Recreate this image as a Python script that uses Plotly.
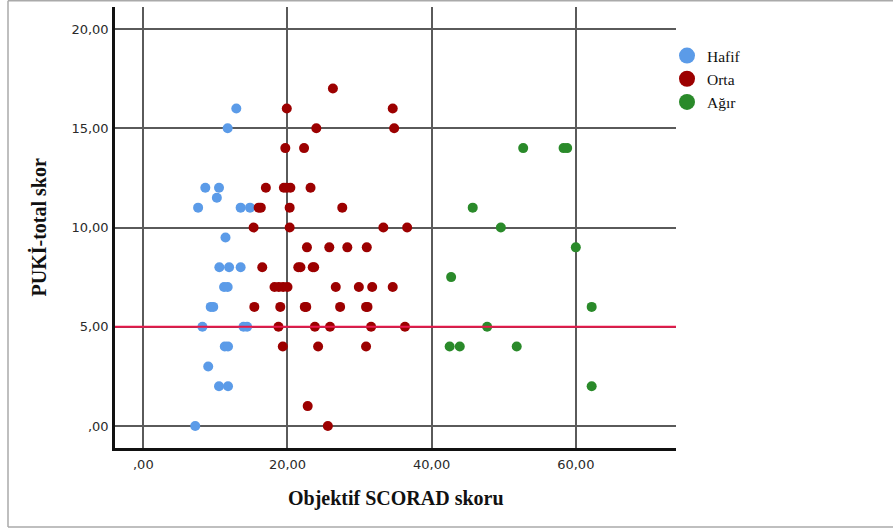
import plotly.graph_objects as go

# ---- data ----
hafif_x = [12.9, 11.7, 8.6, 10.5, 10.2, 7.6, 13.5, 14.8, 11.4, 10.55, 11.9, 13.5,
           11.2, 11.7, 9.35, 9.7, 8.2, 13.9, 14.4, 11.3, 11.75, 9.0, 10.5, 11.75, 7.2]
hafif_y = [16, 15, 12, 12, 11.5, 11, 11, 11, 9.5, 8, 8, 8,
           7, 7, 6, 6, 5, 5, 5, 4, 4, 3, 2, 2, 0]

orta_x = [26.3,
          19.9, 34.6,
          24.0, 34.8,
          19.7, 22.3,
          17.0, 19.5, 19.9, 20.4, 23.2,
          16.0, 16.3, 20.3, 27.6,
          15.3, 20.3, 33.3, 36.6,
          22.7, 25.8, 28.3, 31.0,
          16.5, 21.5, 21.8, 23.5, 23.7,
          18.2, 18.8, 19.4, 20.0, 26.7, 29.9, 31.75, 34.6,
          15.4, 19.0, 22.4, 22.6, 27.3, 30.9, 31.1,
          18.75, 23.8, 25.9, 31.6, 36.3,
          19.35, 24.25, 30.9,
          22.8,
          25.6]
orta_y = [17,
          16, 16,
          15, 15,
          14, 14,
          12, 12, 12, 12, 12,
          11, 11, 11, 11,
          10, 10, 10, 10,
          9, 9, 9, 9,
          8, 8, 8, 8, 8,
          7, 7, 7, 7, 7, 7, 7, 7,
          6, 6, 6, 6, 6, 6, 6,
          5, 5, 5, 5, 5,
          4, 4, 4,
          1,
          0]

agir_x = [52.7, 58.3, 58.8, 45.7, 49.6, 60.0, 42.7, 62.2, 47.7, 42.5, 43.9, 51.8, 62.2]
agir_y = [14, 14, 14, 11, 10, 9, 7.5, 6, 5, 4, 4, 4, 2]

group_names = ["Hafif", "Orta", "Ağır"]
group_colors = ["#5b9be8", "#9c0000", "#2a8a2a"]

x_ticks = [0, 20, 40, 60]
x_ticklabels = [",00", "20,00", "40,00", "60,00"]
y_ticks = [0, 5, 10, 15, 20]
y_ticklabels = [",00", "5,00", "10,00", "15,00", "20,00"]

ref_line_y = 5

x_title = "Objektif SCORAD skoru"
y_title = "PUKİ-total skor"

# ---- figure ----
fig = go.Figure()

series = [(hafif_x, hafif_y), (orta_x, orta_y), (agir_x, agir_y)]

# reference line
fig.add_shape(type="line", xref="paper", yref="y", x0=0, x1=1, y0=ref_line_y, y1=ref_line_y,
              line=dict(color="#e8174a", width=2), layer="above")

for (xs, ys), name, col in zip(series, group_names, group_colors):
    fig.add_trace(go.Scatter(x=xs, y=ys, mode="markers", name=name, showlegend=False,
                             marker=dict(size=10, color=col, line=dict(width=0)),
                             hoverinfo="x+y+name"))

# legend-only entries (larger symbols)
for name, col in zip(group_names, group_colors):
    fig.add_trace(go.Scatter(x=[None], y=[None], mode="markers", name=name,
                             marker=dict(size=16, color=col, line=dict(width=0))))

axis_common = dict(
    showgrid=True, gridcolor="#5a5a5a", gridwidth=1.5,
    zeroline=False, showline=True, linecolor="#111111", linewidth=2.5,
    ticks="", tickfont=dict(family="DejaVu Sans", size=13, color="#2a2a2a"),
    fixedrange=True,
)

fig.update_xaxes(range=[-3.93, 73.9], tickvals=x_ticks, ticktext=x_ticklabels,
                 ticklabelstandoff=3, **axis_common)
fig.update_yaxes(range=[-1.11, 21.11], tickvals=y_ticks, ticktext=y_ticklabels,
                 ticklabelstandoff=1, **axis_common)

# frame around the whole chart (top, bottom, left)
L, R, T, B = 115, 676, 7, 448
W, H = R - L, B - T
def px2paper_x(px):
    return (px - L) / W
def px2paper_y(py):
    return (B - py) / H

fig.add_shape(type="line", xref="paper", yref="paper",
              x0=px2paper_x(8), x1=px2paper_x(893), y0=px2paper_y(0.8), y1=px2paper_y(0.8),
              line=dict(color="#aaaaaa", width=1.5))
fig.add_shape(type="line", xref="paper", yref="paper",
              x0=px2paper_x(8), x1=px2paper_x(893), y0=px2paper_y(527), y1=px2paper_y(527),
              line=dict(color="#aaaaaa", width=1.5))
fig.add_shape(type="line", xref="paper", yref="paper",
              x0=px2paper_x(8), x1=px2paper_x(8), y0=px2paper_y(0.8), y1=px2paper_y(527),
              line=dict(color="#aaaaaa", width=1.5))

fig.add_annotation(text=x_title, xref="paper", yref="paper",
                   x=0.5, y=px2paper_y(498), xanchor="center", yanchor="middle",
                   showarrow=False,
                   font=dict(family="Liberation Serif", size=20, color="#111111", weight="bold"))
fig.add_annotation(text=y_title, xref="paper", yref="paper",
                   x=px2paper_x(38), y=0.5, xanchor="center", yanchor="middle",
                   textangle=-90, showarrow=False,
                   font=dict(family="Liberation Serif", size=20, color="#111111", weight="bold"))

fig.update_layout(
    width=893, height=532,
    margin=dict(l=L, r=893 - R, t=T, b=532 - B, pad=0),
    paper_bgcolor="white", plot_bgcolor="white",
    legend=dict(x=px2paper_x(667), y=px2paper_y(39), xanchor="left", yanchor="top",
                font=dict(family="Liberation Serif", size=15.5, color="#111111"),
                bgcolor="rgba(0,0,0,0)", borderwidth=0, itemsizing="trace",
                tracegroupgap=0),
    showlegend=True,
)

fig.write_html("out.html", config={"displayModeBar": False},
               post_script="document.body.style.margin='0px';document.body.style.overflow='hidden';")
